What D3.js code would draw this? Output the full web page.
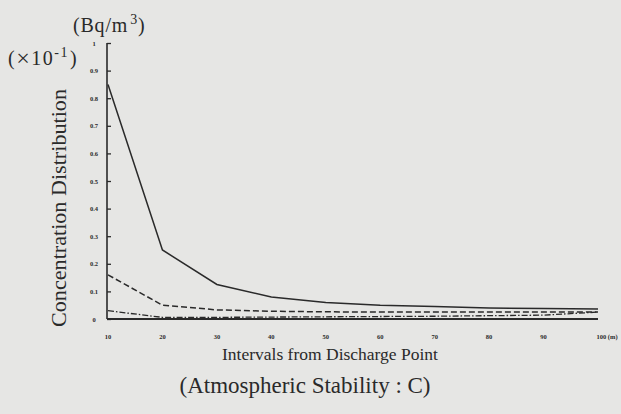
<!DOCTYPE html>
<html><head><meta charset="utf-8">
<script src="https://cdn.jsdelivr.net/npm/d3@7/dist/d3.min.js"></script>
<style>body{margin:0;background:#e6e6e4;}svg{display:block;}</style>
</head><body>
<script>
const distances = [10,20,30,40,50,60,70,80,90,100];
const solid   = [0.85,0.25,0.125,0.08,0.06,0.05,0.045,0.04,0.038,0.036];
const dashed  = [0.16,0.05,0.033,0.028,0.026,0.025,0.025,0.025,0.025,0.025];
const dashdot = [0.03,0.006,0.006,0.007,0.008,0.009,0.01,0.012,0.014,0.025];
const yTicks = [0,0.1,0.2,0.3,0.4,0.5,0.6,0.7,0.8,0.9,1];
const yTickLabels = ["0","0.1","0.2","0.3","0.4","0.5","0.6","0.7","0.8","0.9","1"];
const xTickLabels = ["10","20","30","40","50","60","70","80","90","100 (m)"];

const W=621,H=414;
const svg=d3.select("body").append("svg").attr("width",W).attr("height",H);
svg.append("rect").attr("width",W).attr("height",H).attr("fill","#e6e6e4");
const ink="#2a2a2a";
const x=d3.scaleLinear().domain([10,100]).range([108,598]);
const y=d3.scaleLinear().domain([0,1]).range([319,43]);

svg.append("line").attr("x1",x(10)-1).attr("x2",x(10)-1).attr("y1",y(0)).attr("y2",y(1)).attr("stroke",ink).attr("stroke-width",1.6);
svg.append("line").attr("x1",x(10)-1).attr("x2",x(100)).attr("y1",y(0)).attr("y2",y(0)).attr("stroke",ink).attr("stroke-width",1.8);

const yAxis=d3.axisRight(y).tickValues(yTicks).tickSize(4).tickFormat("");
const ga=svg.append("g").attr("transform",`translate(${x(10)-1},0)`).call(yAxis);
ga.select(".domain").remove();
ga.selectAll("line").attr("stroke",ink).attr("stroke-width",1.3);
svg.selectAll(".ylab").data(yTicks).join("text").attr("class","ylab")
  .attr("x",94).attr("y",d=>y(d)+2.5).attr("text-anchor","middle")
  .attr("font-family","Liberation Serif").attr("font-size",6.5).attr("font-weight","bold").attr("fill",ink)
  .text((d,i)=>yTickLabels[i]);
svg.selectAll(".xlab").data(distances).join("text").attr("class","xlab")
  .attr("x",(d,i)=>x(d)+(i===9?9:0)).attr("y",339).attr("text-anchor","middle")
  .attr("font-family","Liberation Serif").attr("font-size",6.5).attr("font-weight","bold").attr("fill",ink)
  .text((d,i)=>xTickLabels[i]);

const line=d3.line().x((d,i)=>x(distances[i])).y(d=>y(d));
svg.append("path").attr("d",line(solid)).attr("fill","none").attr("stroke",ink).attr("stroke-width",1.5);
svg.append("path").attr("d",line(dashed)).attr("fill","none").attr("stroke",ink).attr("stroke-width",1.5).attr("stroke-dasharray","6,3");
svg.append("path").attr("d",line(dashdot)).attr("fill","none").attr("stroke",ink).attr("stroke-width",1.3).attr("stroke-dasharray","6,2,1.5,2");

const serif="Liberation Serif";
const t1=svg.append("text").attr("x",73).attr("y",32).attr("font-family",serif).attr("font-size",20).attr("letter-spacing",0.8).attr("fill",ink);
t1.append("tspan").text("(Bq/m");
t1.append("tspan").attr("font-size",14).attr("dx",2).attr("dy",-8).text("3");
t1.append("tspan").attr("dy",8).text(")");
const t2=svg.append("text").attr("x",8).attr("y",65).attr("font-family",serif).attr("font-size",20).attr("letter-spacing",1.5).attr("fill",ink);
t2.append("tspan").text("(");
t2.append("tspan").attr("font-size",24).attr("dy",1).text("×");
t2.append("tspan").attr("dy",-1).text("10");
t2.append("tspan").attr("font-size",14).attr("dy",-8).text("-1");
t2.append("tspan").attr("dx",1).attr("dy",8).text(")");
svg.append("text").attr("transform","translate(66,208) rotate(-90)").attr("text-anchor","middle")
  .attr("font-family",serif).attr("font-size",20).attr("textLength",238).attr("lengthAdjust","spacingAndGlyphs")
  .attr("fill",ink).text("Concentration Distribution");
svg.append("text").attr("x",330).attr("y",360).attr("text-anchor","middle")
  .attr("font-family",serif).attr("font-size",17.5).attr("fill",ink).text("Intervals from Discharge Point");
svg.append("text").attr("x",305).attr("y",393).attr("text-anchor","middle")
  .attr("font-family",serif).attr("font-size",23).attr("fill",ink).text("(Atmospheric Stability\u00a0:\u00a0C)");
</script>
</body></html>
